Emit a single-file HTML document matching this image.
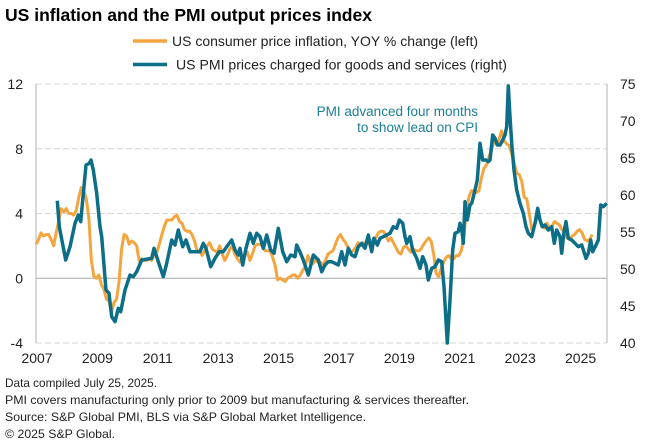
<!DOCTYPE html>
<html><head><meta charset="utf-8"><style>
html,body{margin:0;padding:0;background:#fff;}
svg{display:block;font-family:"Liberation Sans",Arial,sans-serif;}
</style></head><body>
<svg width="649" height="442" viewBox="0 0 649 442" xmlns="http://www.w3.org/2000/svg">
<rect width="649" height="442" fill="#fff"/>
<text x="5" y="21" font-size="17.5" font-weight="bold" fill="#000" textLength="367" lengthAdjust="spacingAndGlyphs">US inflation and the PMI output prices index</text>
<line x1="133" y1="41" x2="167" y2="41" stroke="#F5A540" stroke-width="3.5"/>
<text x="172" y="46" font-size="14" fill="#222" textLength="306" lengthAdjust="spacingAndGlyphs">US consumer price inflation, YOY % change (left)</text>
<line x1="133" y1="64.5" x2="167" y2="64.5" stroke="#0C6E87" stroke-width="3.5"/>
<text x="176" y="69.5" font-size="14" fill="#222" textLength="331" lengthAdjust="spacingAndGlyphs">US PMI prices charged for goods and services (right)</text>
<g stroke="#d6d6d6" stroke-width="1" stroke-dasharray="6,3">
<line x1="36" y1="84" x2="607" y2="84"/>
<line x1="36" y1="148.75" x2="607" y2="148.75"/>
<line x1="36" y1="213.5" x2="607" y2="213.5"/>
<line x1="36" y1="343" x2="607" y2="343"/>
</g>
<line x1="36" y1="278.25" x2="607" y2="278.25" stroke="#a6a6a6" stroke-width="1"/>
<line x1="36" y1="84" x2="36" y2="343" stroke="#bfbfbf" stroke-width="1.2"/>
<line x1="607" y1="84" x2="607" y2="343" stroke="#bfbfbf" stroke-width="1.2"/>
<g font-size="14" fill="#222" text-anchor="end">
<text x="23" y="89">12</text><text x="23" y="153.75">8</text><text x="23" y="218.5">4</text><text x="23" y="283.25">0</text><text x="23" y="348">-4</text>
</g>
<g font-size="14" fill="#222">
<text x="620" y="89">75</text><text x="620" y="126">70</text><text x="620" y="163">65</text><text x="620" y="200">60</text><text x="620" y="237">55</text><text x="620" y="274">50</text><text x="620" y="311">45</text><text x="620" y="348">40</text>
</g>
<g font-size="14" fill="#222" text-anchor="middle">
<text x="37" y="363">2007</text><text x="97.4" y="363">2009</text><text x="157.8" y="363">2011</text><text x="218.2" y="363">2013</text><text x="278.6" y="363">2015</text><text x="339" y="363">2017</text><text x="399.4" y="363">2019</text><text x="459.8" y="363">2021</text><text x="520.2" y="363">2023</text><text x="580.6" y="363">2025</text>
</g>
<text x="478" y="116" font-size="13.5" fill="#1b7f95" text-anchor="end">PMI advanced four months</text>
<text x="478" y="132" font-size="13.5" fill="#1b7f95" text-anchor="end">to show lead on CPI</text>
<g transform="translate(36,278.25) scale(2.5167,-16.19)">
<polyline fill="none" stroke="#F5A540" stroke-width="3" vector-effect="non-scaling-stroke" stroke-linejoin="round" points="0,2.1 1,2.4 2,2.8 3,2.6 4,2.7 5,2.7 6,2.4 7,2.0 8,2.8 9,3.5 10,4.3 11,4.1 12,4.3 13,4.0 14,4.0 15,3.9 16,4.2 17,5.0 18,5.6 19,5.4 20,4.9 21,3.7 22,1.1 23,0.1 24,0.0 25,0.2 26,-0.4 27,-0.7 28,-1.3 29,-1.4 30,-2.1 31,-1.5 32,-1.3 33,-0.2 34,1.8 35,2.7 36,2.6 37,2.1 38,2.3 39,2.2 40,2.0 41,1.1 42,1.2 43,1.1 44,1.1 45,1.2 46,1.1 47,1.5 48,1.6 49,2.1 50,2.7 51,3.2 52,3.6 53,3.6 54,3.6 55,3.8 56,3.9 57,3.5 58,3.4 59,3.0 60,2.9 61,2.9 62,2.7 63,2.3 64,1.7 65,1.7 66,1.4 67,1.7 68,2.0 69,2.2 70,1.8 71,1.7 72,1.6 73,2.0 74,1.5 75,1.1 76,1.4 77,1.8 78,2.0 79,1.5 80,1.2 81,1.0 82,1.2 83,1.5 84,1.6 85,1.1 86,1.5 87,2.0 88,2.1 89,2.1 90,2.0 91,1.7 92,1.7 93,1.7 94,1.3 95,0.8 96,-0.1 97,0.0 98,-0.1 99,-0.2 100,0.0 101,0.1 102,0.2 103,0.2 104,0.0 105,0.2 106,0.5 107,0.7 108,1.4 109,1.0 110,0.9 111,1.1 112,1.0 113,1.0 114,0.8 115,1.1 116,1.5 117,1.6 118,1.7 119,2.1 120,2.5 121,2.7 122,2.4 123,2.2 124,1.9 125,1.6 126,1.7 127,1.9 128,2.2 129,2.0 130,2.2 131,2.1 132,2.1 133,2.2 134,2.4 135,2.5 136,2.8 137,2.9 138,2.9 139,2.7 140,2.3 141,2.5 142,2.2 143,1.9 144,1.6 145,1.5 146,1.9 147,2.0 148,1.8 149,1.6 150,1.8 151,1.7 152,1.7 153,1.8 154,2.1 155,2.3 156,2.5 157,2.3 158,1.5 159,0.3 160,0.1 161,0.6 162,1.0 163,1.3 164,1.4 165,1.2 166,1.2 167,1.4 168,1.4 169,1.7 170,2.6 171,4.2 172,5.0 173,5.4 174,5.4 175,5.3 176,5.4 177,6.2 178,6.8 179,7.0 180,7.5 181,7.9 182,8.5 183,8.3 184,8.6 185,9.1 186,8.5 187,8.3 188,8.2 189,7.7 190,7.1 191,6.5 192,6.4 193,6.0 194,5.0 195,4.9 196,4.0 197,3.0 198,3.2 199,3.7 200,3.7 201,3.2 202,3.1 203,3.4 204,3.1 205,3.2 206,3.5 207,3.4 208,3.3 209,3.0 210,2.9 211,2.5 212,2.4 213,2.6 214,2.7 215,2.9 216,3.0 217,2.8 218,2.4 219,2.3 220,2.4 221,2.7"/>
</g>
<polyline fill="none" stroke="#0C6E87" stroke-width="3.5" stroke-linejoin="round" points="57.3,200.7 59.3,226.7 65.7,260 70,246.7 75,223.3 78.3,215 80.7,221.7 86,165 89.3,163.3 91,160 93.3,170 96.7,193.3 100,226.7 101.7,236.7 106,290 109,293.3 111.7,316.7 115,321.7 118.3,308.3 120.7,311.7 125,290 130,275 133.3,276.7 136.7,271.7 141.7,260 151.7,258.3 154,248.3 158.3,261.7 163.3,276.7 166.7,263.3 171.7,240 175,245 178.3,230 182.7,246.7 186,240 190,251.7 200,251.7 203.3,243.3 206,248.3 210.7,266.7 215,258.3 219.3,251.7 223.3,251.7 226.7,246.7 231.7,240 235,250 238.3,255 240,248.3 242.7,265 246,248.3 250,233.3 253.3,243.3 256.7,233.3 260,236.7 263.3,248.3 266.7,235 270.7,250 274,253.3 278.3,228.3 282.7,251.7 286.7,261.7 290.7,255 295,256.7 296.7,245 300,252 303.3,260 308.3,275 313.3,255 318.3,260 321.7,271.7 325,265 328.3,261.7 331.7,261.7 335,263.3 338.3,265 341.7,251.7 345,265 348.3,248.3 351.7,255 355,256.7 358.3,246.7 361.7,243.3 365,248.3 368.3,235 371.7,251.7 374,238.3 377.3,245 380,238.3 383.3,236.7 386.7,235 390,233.3 393.3,226.7 396.7,228.3 399.3,220 402.7,223.3 405,236.7 406.7,243.3 410,236.7 412.7,250 416.7,258.3 420,268.3 422.7,256.7 426,265 428.3,280 431.7,268.3 435,266.7 438.3,260 441.7,261.7 444,286.7 447.3,343 450,300 452.7,250 455,233.3 458.3,231.7 460,223.3 461.7,228.3 463.3,243.3 465,201.7 467.3,220 470,205 471.7,203.3 475,190 477.3,180 480,143.3 482.7,160 486,160 488.3,161.7 490,160 492.7,135 495,138.3 497.3,145 500,145 502.7,140 505,135 506.7,126.7 508.3,86 510,116.7 511.7,143.3 514,170 516.7,190 520,203.3 523.3,213.3 526,226.7 528.3,233.3 531.7,236.7 535,223.3 537.7,208.3 540,220 542.3,226.7 545,225 548.3,230 551.7,226.7 554.3,243.3 556.7,230 560,236.7 561.7,253.3 564,231.7 566,221.7 568.3,238.3 571.7,240 575,243.3 578.3,246.7 581.7,245 586,258.3 588.3,253.3 590.7,240 592.7,251.7 596,245 598.3,240 600.7,205 603.3,206.7 606.7,203.3"/>
<g font-size="12" fill="#222">
<text x="5" y="387" textLength="152" lengthAdjust="spacingAndGlyphs">Data compiled July 25, 2025.</text>
<text x="5" y="404" textLength="464" lengthAdjust="spacingAndGlyphs">PMI covers manufacturing only prior to 2009 but manufacturing &amp; services thereafter.</text>
<text x="5" y="421" textLength="361" lengthAdjust="spacingAndGlyphs">Source: S&amp;P Global PMI, BLS via S&amp;P Global Market Intelligence.</text>
<text x="5" y="438" textLength="110" lengthAdjust="spacingAndGlyphs">© 2025 S&amp;P Global.</text>
</g>
</svg>
</body></html>
